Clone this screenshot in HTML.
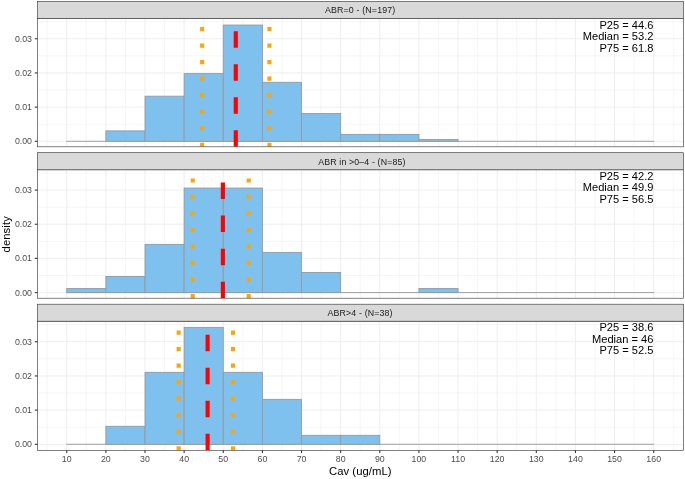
<!DOCTYPE html>
<html><head><meta charset="utf-8"><title>Cav histogram</title>
<style>html,body{margin:0;padding:0;background:#fff;}svg{display:block;}</style></head>
<body>
<svg width="685" height="479" viewBox="0 0 685 479" font-family="'Liberation Sans', sans-serif">
<rect x="0" y="0" width="685" height="479" fill="#ffffff"/>
<clipPath id="c0"><rect x="37.5" y="18.5" width="646.0" height="128.3"/></clipPath>
<g clip-path="url(#c0)">
<rect x="37.5" y="18.5" width="646.0" height="128.3" fill="#fff"/>
<line x1="37.5" x2="683.5" y1="124.21" y2="124.21" stroke="#EBEBEB" stroke-width="0.45"/>
<line x1="37.5" x2="683.5" y1="90.03" y2="90.03" stroke="#EBEBEB" stroke-width="0.45"/>
<line x1="37.5" x2="683.5" y1="55.85" y2="55.85" stroke="#EBEBEB" stroke-width="0.45"/>
<line x1="37.5" x2="683.5" y1="21.67" y2="21.67" stroke="#EBEBEB" stroke-width="0.45"/>
<line x1="47.19" x2="47.19" y1="18.5" y2="146.8" stroke="#EBEBEB" stroke-width="0.45"/>
<line x1="86.31" x2="86.31" y1="18.5" y2="146.8" stroke="#EBEBEB" stroke-width="0.45"/>
<line x1="125.44" x2="125.44" y1="18.5" y2="146.8" stroke="#EBEBEB" stroke-width="0.45"/>
<line x1="164.57" x2="164.57" y1="18.5" y2="146.8" stroke="#EBEBEB" stroke-width="0.45"/>
<line x1="203.70" x2="203.70" y1="18.5" y2="146.8" stroke="#EBEBEB" stroke-width="0.45"/>
<line x1="242.83" x2="242.83" y1="18.5" y2="146.8" stroke="#EBEBEB" stroke-width="0.45"/>
<line x1="281.97" x2="281.97" y1="18.5" y2="146.8" stroke="#EBEBEB" stroke-width="0.45"/>
<line x1="321.10" x2="321.10" y1="18.5" y2="146.8" stroke="#EBEBEB" stroke-width="0.45"/>
<line x1="360.22" x2="360.22" y1="18.5" y2="146.8" stroke="#EBEBEB" stroke-width="0.45"/>
<line x1="399.35" x2="399.35" y1="18.5" y2="146.8" stroke="#EBEBEB" stroke-width="0.45"/>
<line x1="438.48" x2="438.48" y1="18.5" y2="146.8" stroke="#EBEBEB" stroke-width="0.45"/>
<line x1="477.61" x2="477.61" y1="18.5" y2="146.8" stroke="#EBEBEB" stroke-width="0.45"/>
<line x1="516.75" x2="516.75" y1="18.5" y2="146.8" stroke="#EBEBEB" stroke-width="0.45"/>
<line x1="555.88" x2="555.88" y1="18.5" y2="146.8" stroke="#EBEBEB" stroke-width="0.45"/>
<line x1="595.00" x2="595.00" y1="18.5" y2="146.8" stroke="#EBEBEB" stroke-width="0.45"/>
<line x1="634.13" x2="634.13" y1="18.5" y2="146.8" stroke="#EBEBEB" stroke-width="0.45"/>
<line x1="673.26" x2="673.26" y1="18.5" y2="146.8" stroke="#EBEBEB" stroke-width="0.45"/>
<line x1="37.5" x2="683.5" y1="141.30" y2="141.30" stroke="#EBEBEB" stroke-width="0.85"/>
<line x1="37.5" x2="683.5" y1="107.12" y2="107.12" stroke="#EBEBEB" stroke-width="0.85"/>
<line x1="37.5" x2="683.5" y1="72.94" y2="72.94" stroke="#EBEBEB" stroke-width="0.85"/>
<line x1="37.5" x2="683.5" y1="38.76" y2="38.76" stroke="#EBEBEB" stroke-width="0.85"/>
<line x1="66.75" x2="66.75" y1="18.5" y2="146.8" stroke="#EBEBEB" stroke-width="0.85"/>
<line x1="105.88" x2="105.88" y1="18.5" y2="146.8" stroke="#EBEBEB" stroke-width="0.85"/>
<line x1="145.01" x2="145.01" y1="18.5" y2="146.8" stroke="#EBEBEB" stroke-width="0.85"/>
<line x1="184.14" x2="184.14" y1="18.5" y2="146.8" stroke="#EBEBEB" stroke-width="0.85"/>
<line x1="223.27" x2="223.27" y1="18.5" y2="146.8" stroke="#EBEBEB" stroke-width="0.85"/>
<line x1="262.40" x2="262.40" y1="18.5" y2="146.8" stroke="#EBEBEB" stroke-width="0.85"/>
<line x1="301.53" x2="301.53" y1="18.5" y2="146.8" stroke="#EBEBEB" stroke-width="0.85"/>
<line x1="340.66" x2="340.66" y1="18.5" y2="146.8" stroke="#EBEBEB" stroke-width="0.85"/>
<line x1="379.79" x2="379.79" y1="18.5" y2="146.8" stroke="#EBEBEB" stroke-width="0.85"/>
<line x1="418.92" x2="418.92" y1="18.5" y2="146.8" stroke="#EBEBEB" stroke-width="0.85"/>
<line x1="458.05" x2="458.05" y1="18.5" y2="146.8" stroke="#EBEBEB" stroke-width="0.85"/>
<line x1="497.18" x2="497.18" y1="18.5" y2="146.8" stroke="#EBEBEB" stroke-width="0.85"/>
<line x1="536.31" x2="536.31" y1="18.5" y2="146.8" stroke="#EBEBEB" stroke-width="0.85"/>
<line x1="575.44" x2="575.44" y1="18.5" y2="146.8" stroke="#EBEBEB" stroke-width="0.85"/>
<line x1="614.57" x2="614.57" y1="18.5" y2="146.8" stroke="#EBEBEB" stroke-width="0.85"/>
<line x1="653.70" x2="653.70" y1="18.5" y2="146.8" stroke="#EBEBEB" stroke-width="0.85"/>
<line x1="66.22" x2="654.23" y1="141.30" y2="141.30" stroke="#999999" stroke-width="0.9"/>
<rect x="66.75" y="141.30" width="39.13" height="0.00" fill="#7EC0EE" stroke="#999999" stroke-width="0.9" stroke-linejoin="miter"/>
<rect x="105.88" y="130.89" width="39.13" height="10.41" fill="#7EC0EE" stroke="#999999" stroke-width="0.9" stroke-linejoin="miter"/>
<rect x="145.01" y="96.19" width="39.13" height="45.11" fill="#7EC0EE" stroke="#999999" stroke-width="0.9" stroke-linejoin="miter"/>
<rect x="184.14" y="73.63" width="39.13" height="67.67" fill="#7EC0EE" stroke="#999999" stroke-width="0.9" stroke-linejoin="miter"/>
<rect x="223.27" y="25.05" width="39.13" height="116.25" fill="#7EC0EE" stroke="#999999" stroke-width="0.9" stroke-linejoin="miter"/>
<rect x="262.40" y="82.31" width="39.13" height="58.99" fill="#7EC0EE" stroke="#999999" stroke-width="0.9" stroke-linejoin="miter"/>
<rect x="301.53" y="113.54" width="39.13" height="27.76" fill="#7EC0EE" stroke="#999999" stroke-width="0.9" stroke-linejoin="miter"/>
<rect x="340.66" y="134.36" width="39.13" height="6.94" fill="#7EC0EE" stroke="#999999" stroke-width="0.9" stroke-linejoin="miter"/>
<rect x="379.79" y="134.36" width="39.13" height="6.94" fill="#7EC0EE" stroke="#999999" stroke-width="0.9" stroke-linejoin="miter"/>
<rect x="418.92" y="139.56" width="39.13" height="1.74" fill="#7EC0EE" stroke="#999999" stroke-width="0.9" stroke-linejoin="miter"/>
<rect x="458.05" y="141.30" width="39.13" height="0.00" fill="#7EC0EE" stroke="#999999" stroke-width="0.9" stroke-linejoin="miter"/>
<rect x="497.18" y="141.30" width="39.13" height="0.00" fill="#7EC0EE" stroke="#999999" stroke-width="0.9" stroke-linejoin="miter"/>
<rect x="536.31" y="141.30" width="39.13" height="0.00" fill="#7EC0EE" stroke="#999999" stroke-width="0.9" stroke-linejoin="miter"/>
<rect x="575.44" y="141.30" width="39.13" height="0.00" fill="#7EC0EE" stroke="#999999" stroke-width="0.9" stroke-linejoin="miter"/>
<rect x="614.57" y="141.30" width="39.13" height="0.00" fill="#7EC0EE" stroke="#999999" stroke-width="0.9" stroke-linejoin="miter"/>
<line x1="202.14" x2="202.14" y1="146.8" y2="18.5" stroke="#FFA500" stroke-width="4.13" stroke-dasharray="4.13 12.39"/>
<line x1="269.44" x2="269.44" y1="146.8" y2="18.5" stroke="#FFA500" stroke-width="4.13" stroke-dasharray="4.13 12.39"/>
<line x1="235.79" x2="235.79" y1="146.8" y2="18.5" stroke="#FF0000" stroke-width="4.13" stroke-dasharray="16.52 16.52"/>
<text x="653.4" y="28.50" font-size="11.1" text-anchor="end" fill="#000">P25 = 44.6</text>
<text x="653.4" y="40.12" font-size="11.1" text-anchor="end" fill="#000">Median = 53.2</text>
<text x="653.4" y="51.74" font-size="11.1" text-anchor="end" fill="#000">P75 = 61.8</text>
</g>
<rect x="37.5" y="18.5" width="646.0" height="128.3" fill="none" stroke="#333333" stroke-width="0.62"/>
<rect x="37.5" y="1.5" width="646.0" height="17.0" fill="#D9D9D9" stroke="#333333" stroke-width="0.62"/>
<text x="360.20" y="13.45" font-size="8.8" text-anchor="middle" fill="#1A1A1A" letter-spacing="0.17">ABR=0 - (N=197)</text>
<line x1="34.75" x2="37.5" y1="141.30" y2="141.30" stroke="#333333" stroke-width="1.07"/>
<text x="32.0" y="144.25" font-size="8.8" text-anchor="end" fill="#4D4D4D">0.00</text>
<line x1="34.75" x2="37.5" y1="107.12" y2="107.12" stroke="#333333" stroke-width="1.07"/>
<text x="32.0" y="110.07" font-size="8.8" text-anchor="end" fill="#4D4D4D">0.01</text>
<line x1="34.75" x2="37.5" y1="72.94" y2="72.94" stroke="#333333" stroke-width="1.07"/>
<text x="32.0" y="75.89" font-size="8.8" text-anchor="end" fill="#4D4D4D">0.02</text>
<line x1="34.75" x2="37.5" y1="38.76" y2="38.76" stroke="#333333" stroke-width="1.07"/>
<text x="32.0" y="41.71" font-size="8.8" text-anchor="end" fill="#4D4D4D">0.03</text>
<clipPath id="c1"><rect x="37.5" y="169.8" width="646.0" height="128.39999999999998"/></clipPath>
<g clip-path="url(#c1)">
<rect x="37.5" y="169.8" width="646.0" height="128.39999999999998" fill="#fff"/>
<line x1="37.5" x2="683.5" y1="275.51" y2="275.51" stroke="#EBEBEB" stroke-width="0.45"/>
<line x1="37.5" x2="683.5" y1="241.33" y2="241.33" stroke="#EBEBEB" stroke-width="0.45"/>
<line x1="37.5" x2="683.5" y1="207.15" y2="207.15" stroke="#EBEBEB" stroke-width="0.45"/>
<line x1="37.5" x2="683.5" y1="172.97" y2="172.97" stroke="#EBEBEB" stroke-width="0.45"/>
<line x1="47.19" x2="47.19" y1="169.8" y2="298.2" stroke="#EBEBEB" stroke-width="0.45"/>
<line x1="86.31" x2="86.31" y1="169.8" y2="298.2" stroke="#EBEBEB" stroke-width="0.45"/>
<line x1="125.44" x2="125.44" y1="169.8" y2="298.2" stroke="#EBEBEB" stroke-width="0.45"/>
<line x1="164.57" x2="164.57" y1="169.8" y2="298.2" stroke="#EBEBEB" stroke-width="0.45"/>
<line x1="203.70" x2="203.70" y1="169.8" y2="298.2" stroke="#EBEBEB" stroke-width="0.45"/>
<line x1="242.83" x2="242.83" y1="169.8" y2="298.2" stroke="#EBEBEB" stroke-width="0.45"/>
<line x1="281.97" x2="281.97" y1="169.8" y2="298.2" stroke="#EBEBEB" stroke-width="0.45"/>
<line x1="321.10" x2="321.10" y1="169.8" y2="298.2" stroke="#EBEBEB" stroke-width="0.45"/>
<line x1="360.22" x2="360.22" y1="169.8" y2="298.2" stroke="#EBEBEB" stroke-width="0.45"/>
<line x1="399.35" x2="399.35" y1="169.8" y2="298.2" stroke="#EBEBEB" stroke-width="0.45"/>
<line x1="438.48" x2="438.48" y1="169.8" y2="298.2" stroke="#EBEBEB" stroke-width="0.45"/>
<line x1="477.61" x2="477.61" y1="169.8" y2="298.2" stroke="#EBEBEB" stroke-width="0.45"/>
<line x1="516.75" x2="516.75" y1="169.8" y2="298.2" stroke="#EBEBEB" stroke-width="0.45"/>
<line x1="555.88" x2="555.88" y1="169.8" y2="298.2" stroke="#EBEBEB" stroke-width="0.45"/>
<line x1="595.00" x2="595.00" y1="169.8" y2="298.2" stroke="#EBEBEB" stroke-width="0.45"/>
<line x1="634.13" x2="634.13" y1="169.8" y2="298.2" stroke="#EBEBEB" stroke-width="0.45"/>
<line x1="673.26" x2="673.26" y1="169.8" y2="298.2" stroke="#EBEBEB" stroke-width="0.45"/>
<line x1="37.5" x2="683.5" y1="292.60" y2="292.60" stroke="#EBEBEB" stroke-width="0.85"/>
<line x1="37.5" x2="683.5" y1="258.42" y2="258.42" stroke="#EBEBEB" stroke-width="0.85"/>
<line x1="37.5" x2="683.5" y1="224.24" y2="224.24" stroke="#EBEBEB" stroke-width="0.85"/>
<line x1="37.5" x2="683.5" y1="190.06" y2="190.06" stroke="#EBEBEB" stroke-width="0.85"/>
<line x1="66.75" x2="66.75" y1="169.8" y2="298.2" stroke="#EBEBEB" stroke-width="0.85"/>
<line x1="105.88" x2="105.88" y1="169.8" y2="298.2" stroke="#EBEBEB" stroke-width="0.85"/>
<line x1="145.01" x2="145.01" y1="169.8" y2="298.2" stroke="#EBEBEB" stroke-width="0.85"/>
<line x1="184.14" x2="184.14" y1="169.8" y2="298.2" stroke="#EBEBEB" stroke-width="0.85"/>
<line x1="223.27" x2="223.27" y1="169.8" y2="298.2" stroke="#EBEBEB" stroke-width="0.85"/>
<line x1="262.40" x2="262.40" y1="169.8" y2="298.2" stroke="#EBEBEB" stroke-width="0.85"/>
<line x1="301.53" x2="301.53" y1="169.8" y2="298.2" stroke="#EBEBEB" stroke-width="0.85"/>
<line x1="340.66" x2="340.66" y1="169.8" y2="298.2" stroke="#EBEBEB" stroke-width="0.85"/>
<line x1="379.79" x2="379.79" y1="169.8" y2="298.2" stroke="#EBEBEB" stroke-width="0.85"/>
<line x1="418.92" x2="418.92" y1="169.8" y2="298.2" stroke="#EBEBEB" stroke-width="0.85"/>
<line x1="458.05" x2="458.05" y1="169.8" y2="298.2" stroke="#EBEBEB" stroke-width="0.85"/>
<line x1="497.18" x2="497.18" y1="169.8" y2="298.2" stroke="#EBEBEB" stroke-width="0.85"/>
<line x1="536.31" x2="536.31" y1="169.8" y2="298.2" stroke="#EBEBEB" stroke-width="0.85"/>
<line x1="575.44" x2="575.44" y1="169.8" y2="298.2" stroke="#EBEBEB" stroke-width="0.85"/>
<line x1="614.57" x2="614.57" y1="169.8" y2="298.2" stroke="#EBEBEB" stroke-width="0.85"/>
<line x1="653.70" x2="653.70" y1="169.8" y2="298.2" stroke="#EBEBEB" stroke-width="0.85"/>
<line x1="66.22" x2="654.23" y1="292.60" y2="292.60" stroke="#999999" stroke-width="0.9"/>
<rect x="66.75" y="288.58" width="39.13" height="4.02" fill="#7EC0EE" stroke="#999999" stroke-width="0.9" stroke-linejoin="miter"/>
<rect x="105.88" y="276.52" width="39.13" height="16.08" fill="#7EC0EE" stroke="#999999" stroke-width="0.9" stroke-linejoin="miter"/>
<rect x="145.01" y="244.35" width="39.13" height="48.25" fill="#7EC0EE" stroke="#999999" stroke-width="0.9" stroke-linejoin="miter"/>
<rect x="184.14" y="188.05" width="39.13" height="104.55" fill="#7EC0EE" stroke="#999999" stroke-width="0.9" stroke-linejoin="miter"/>
<rect x="223.27" y="188.05" width="39.13" height="104.55" fill="#7EC0EE" stroke="#999999" stroke-width="0.9" stroke-linejoin="miter"/>
<rect x="262.40" y="252.39" width="39.13" height="40.21" fill="#7EC0EE" stroke="#999999" stroke-width="0.9" stroke-linejoin="miter"/>
<rect x="301.53" y="272.49" width="39.13" height="20.11" fill="#7EC0EE" stroke="#999999" stroke-width="0.9" stroke-linejoin="miter"/>
<rect x="340.66" y="292.60" width="39.13" height="0.00" fill="#7EC0EE" stroke="#999999" stroke-width="0.9" stroke-linejoin="miter"/>
<rect x="379.79" y="292.60" width="39.13" height="0.00" fill="#7EC0EE" stroke="#999999" stroke-width="0.9" stroke-linejoin="miter"/>
<rect x="418.92" y="288.58" width="39.13" height="4.02" fill="#7EC0EE" stroke="#999999" stroke-width="0.9" stroke-linejoin="miter"/>
<rect x="458.05" y="292.60" width="39.13" height="0.00" fill="#7EC0EE" stroke="#999999" stroke-width="0.9" stroke-linejoin="miter"/>
<rect x="497.18" y="292.60" width="39.13" height="0.00" fill="#7EC0EE" stroke="#999999" stroke-width="0.9" stroke-linejoin="miter"/>
<rect x="536.31" y="292.60" width="39.13" height="0.00" fill="#7EC0EE" stroke="#999999" stroke-width="0.9" stroke-linejoin="miter"/>
<rect x="575.44" y="292.60" width="39.13" height="0.00" fill="#7EC0EE" stroke="#999999" stroke-width="0.9" stroke-linejoin="miter"/>
<rect x="614.57" y="292.60" width="39.13" height="0.00" fill="#7EC0EE" stroke="#999999" stroke-width="0.9" stroke-linejoin="miter"/>
<line x1="192.75" x2="192.75" y1="298.2" y2="169.8" stroke="#FFA500" stroke-width="4.13" stroke-dasharray="4.13 12.39"/>
<line x1="248.70" x2="248.70" y1="298.2" y2="169.8" stroke="#FFA500" stroke-width="4.13" stroke-dasharray="4.13 12.39"/>
<line x1="222.88" x2="222.88" y1="298.2" y2="169.8" stroke="#FF0000" stroke-width="4.13" stroke-dasharray="16.52 16.52"/>
<text x="653.4" y="179.80" font-size="11.1" text-anchor="end" fill="#000">P25 = 42.2</text>
<text x="653.4" y="191.42" font-size="11.1" text-anchor="end" fill="#000">Median = 49.9</text>
<text x="653.4" y="203.04" font-size="11.1" text-anchor="end" fill="#000">P75 = 56.5</text>
</g>
<rect x="37.5" y="169.8" width="646.0" height="128.39999999999998" fill="none" stroke="#333333" stroke-width="0.62"/>
<rect x="37.5" y="152.7" width="646.0" height="17.100000000000023" fill="#D9D9D9" stroke="#333333" stroke-width="0.62"/>
<text x="361.90" y="164.65" font-size="8.8" text-anchor="middle" fill="#1A1A1A" letter-spacing="0.14">ABR in >0–4 - (N=85)</text>
<line x1="34.75" x2="37.5" y1="292.60" y2="292.60" stroke="#333333" stroke-width="1.07"/>
<text x="32.0" y="295.55" font-size="8.8" text-anchor="end" fill="#4D4D4D">0.00</text>
<line x1="34.75" x2="37.5" y1="258.42" y2="258.42" stroke="#333333" stroke-width="1.07"/>
<text x="32.0" y="261.37" font-size="8.8" text-anchor="end" fill="#4D4D4D">0.01</text>
<line x1="34.75" x2="37.5" y1="224.24" y2="224.24" stroke="#333333" stroke-width="1.07"/>
<text x="32.0" y="227.19" font-size="8.8" text-anchor="end" fill="#4D4D4D">0.02</text>
<line x1="34.75" x2="37.5" y1="190.06" y2="190.06" stroke="#333333" stroke-width="1.07"/>
<text x="32.0" y="193.01" font-size="8.8" text-anchor="end" fill="#4D4D4D">0.03</text>
<clipPath id="c2"><rect x="37.5" y="321.2" width="646.0" height="129.10000000000002"/></clipPath>
<g clip-path="url(#c2)">
<rect x="37.5" y="321.2" width="646.0" height="129.10000000000002" fill="#fff"/>
<line x1="37.5" x2="683.5" y1="427.21" y2="427.21" stroke="#EBEBEB" stroke-width="0.45"/>
<line x1="37.5" x2="683.5" y1="393.03" y2="393.03" stroke="#EBEBEB" stroke-width="0.45"/>
<line x1="37.5" x2="683.5" y1="358.85" y2="358.85" stroke="#EBEBEB" stroke-width="0.45"/>
<line x1="37.5" x2="683.5" y1="324.67" y2="324.67" stroke="#EBEBEB" stroke-width="0.45"/>
<line x1="47.19" x2="47.19" y1="321.2" y2="450.3" stroke="#EBEBEB" stroke-width="0.45"/>
<line x1="86.31" x2="86.31" y1="321.2" y2="450.3" stroke="#EBEBEB" stroke-width="0.45"/>
<line x1="125.44" x2="125.44" y1="321.2" y2="450.3" stroke="#EBEBEB" stroke-width="0.45"/>
<line x1="164.57" x2="164.57" y1="321.2" y2="450.3" stroke="#EBEBEB" stroke-width="0.45"/>
<line x1="203.70" x2="203.70" y1="321.2" y2="450.3" stroke="#EBEBEB" stroke-width="0.45"/>
<line x1="242.83" x2="242.83" y1="321.2" y2="450.3" stroke="#EBEBEB" stroke-width="0.45"/>
<line x1="281.97" x2="281.97" y1="321.2" y2="450.3" stroke="#EBEBEB" stroke-width="0.45"/>
<line x1="321.10" x2="321.10" y1="321.2" y2="450.3" stroke="#EBEBEB" stroke-width="0.45"/>
<line x1="360.22" x2="360.22" y1="321.2" y2="450.3" stroke="#EBEBEB" stroke-width="0.45"/>
<line x1="399.35" x2="399.35" y1="321.2" y2="450.3" stroke="#EBEBEB" stroke-width="0.45"/>
<line x1="438.48" x2="438.48" y1="321.2" y2="450.3" stroke="#EBEBEB" stroke-width="0.45"/>
<line x1="477.61" x2="477.61" y1="321.2" y2="450.3" stroke="#EBEBEB" stroke-width="0.45"/>
<line x1="516.75" x2="516.75" y1="321.2" y2="450.3" stroke="#EBEBEB" stroke-width="0.45"/>
<line x1="555.88" x2="555.88" y1="321.2" y2="450.3" stroke="#EBEBEB" stroke-width="0.45"/>
<line x1="595.00" x2="595.00" y1="321.2" y2="450.3" stroke="#EBEBEB" stroke-width="0.45"/>
<line x1="634.13" x2="634.13" y1="321.2" y2="450.3" stroke="#EBEBEB" stroke-width="0.45"/>
<line x1="673.26" x2="673.26" y1="321.2" y2="450.3" stroke="#EBEBEB" stroke-width="0.45"/>
<line x1="37.5" x2="683.5" y1="444.30" y2="444.30" stroke="#EBEBEB" stroke-width="0.85"/>
<line x1="37.5" x2="683.5" y1="410.12" y2="410.12" stroke="#EBEBEB" stroke-width="0.85"/>
<line x1="37.5" x2="683.5" y1="375.94" y2="375.94" stroke="#EBEBEB" stroke-width="0.85"/>
<line x1="37.5" x2="683.5" y1="341.76" y2="341.76" stroke="#EBEBEB" stroke-width="0.85"/>
<line x1="66.75" x2="66.75" y1="321.2" y2="450.3" stroke="#EBEBEB" stroke-width="0.85"/>
<line x1="105.88" x2="105.88" y1="321.2" y2="450.3" stroke="#EBEBEB" stroke-width="0.85"/>
<line x1="145.01" x2="145.01" y1="321.2" y2="450.3" stroke="#EBEBEB" stroke-width="0.85"/>
<line x1="184.14" x2="184.14" y1="321.2" y2="450.3" stroke="#EBEBEB" stroke-width="0.85"/>
<line x1="223.27" x2="223.27" y1="321.2" y2="450.3" stroke="#EBEBEB" stroke-width="0.85"/>
<line x1="262.40" x2="262.40" y1="321.2" y2="450.3" stroke="#EBEBEB" stroke-width="0.85"/>
<line x1="301.53" x2="301.53" y1="321.2" y2="450.3" stroke="#EBEBEB" stroke-width="0.85"/>
<line x1="340.66" x2="340.66" y1="321.2" y2="450.3" stroke="#EBEBEB" stroke-width="0.85"/>
<line x1="379.79" x2="379.79" y1="321.2" y2="450.3" stroke="#EBEBEB" stroke-width="0.85"/>
<line x1="418.92" x2="418.92" y1="321.2" y2="450.3" stroke="#EBEBEB" stroke-width="0.85"/>
<line x1="458.05" x2="458.05" y1="321.2" y2="450.3" stroke="#EBEBEB" stroke-width="0.85"/>
<line x1="497.18" x2="497.18" y1="321.2" y2="450.3" stroke="#EBEBEB" stroke-width="0.85"/>
<line x1="536.31" x2="536.31" y1="321.2" y2="450.3" stroke="#EBEBEB" stroke-width="0.85"/>
<line x1="575.44" x2="575.44" y1="321.2" y2="450.3" stroke="#EBEBEB" stroke-width="0.85"/>
<line x1="614.57" x2="614.57" y1="321.2" y2="450.3" stroke="#EBEBEB" stroke-width="0.85"/>
<line x1="653.70" x2="653.70" y1="321.2" y2="450.3" stroke="#EBEBEB" stroke-width="0.85"/>
<line x1="66.22" x2="654.23" y1="444.30" y2="444.30" stroke="#999999" stroke-width="0.9"/>
<rect x="66.75" y="444.30" width="39.13" height="0.00" fill="#7EC0EE" stroke="#999999" stroke-width="0.9" stroke-linejoin="miter"/>
<rect x="105.88" y="426.31" width="39.13" height="17.99" fill="#7EC0EE" stroke="#999999" stroke-width="0.9" stroke-linejoin="miter"/>
<rect x="145.01" y="372.34" width="39.13" height="71.96" fill="#7EC0EE" stroke="#999999" stroke-width="0.9" stroke-linejoin="miter"/>
<rect x="184.14" y="327.37" width="39.13" height="116.93" fill="#7EC0EE" stroke="#999999" stroke-width="0.9" stroke-linejoin="miter"/>
<rect x="223.27" y="372.34" width="39.13" height="71.96" fill="#7EC0EE" stroke="#999999" stroke-width="0.9" stroke-linejoin="miter"/>
<rect x="262.40" y="399.33" width="39.13" height="44.97" fill="#7EC0EE" stroke="#999999" stroke-width="0.9" stroke-linejoin="miter"/>
<rect x="301.53" y="435.31" width="39.13" height="8.99" fill="#7EC0EE" stroke="#999999" stroke-width="0.9" stroke-linejoin="miter"/>
<rect x="340.66" y="435.31" width="39.13" height="8.99" fill="#7EC0EE" stroke="#999999" stroke-width="0.9" stroke-linejoin="miter"/>
<rect x="379.79" y="444.30" width="39.13" height="0.00" fill="#7EC0EE" stroke="#999999" stroke-width="0.9" stroke-linejoin="miter"/>
<rect x="418.92" y="444.30" width="39.13" height="0.00" fill="#7EC0EE" stroke="#999999" stroke-width="0.9" stroke-linejoin="miter"/>
<rect x="458.05" y="444.30" width="39.13" height="0.00" fill="#7EC0EE" stroke="#999999" stroke-width="0.9" stroke-linejoin="miter"/>
<rect x="497.18" y="444.30" width="39.13" height="0.00" fill="#7EC0EE" stroke="#999999" stroke-width="0.9" stroke-linejoin="miter"/>
<rect x="536.31" y="444.30" width="39.13" height="0.00" fill="#7EC0EE" stroke="#999999" stroke-width="0.9" stroke-linejoin="miter"/>
<rect x="575.44" y="444.30" width="39.13" height="0.00" fill="#7EC0EE" stroke="#999999" stroke-width="0.9" stroke-linejoin="miter"/>
<rect x="614.57" y="444.30" width="39.13" height="0.00" fill="#7EC0EE" stroke="#999999" stroke-width="0.9" stroke-linejoin="miter"/>
<line x1="178.66" x2="178.66" y1="450.3" y2="321.2" stroke="#FFA500" stroke-width="4.13" stroke-dasharray="4.13 12.39"/>
<line x1="233.05" x2="233.05" y1="450.3" y2="321.2" stroke="#FFA500" stroke-width="4.13" stroke-dasharray="4.13 12.39"/>
<line x1="207.62" x2="207.62" y1="450.3" y2="321.2" stroke="#FF0000" stroke-width="4.13" stroke-dasharray="16.52 16.52"/>
<text x="653.4" y="331.20" font-size="11.1" text-anchor="end" fill="#000">P25 = 38.6</text>
<text x="653.4" y="342.82" font-size="11.1" text-anchor="end" fill="#000">Median = 46</text>
<text x="653.4" y="354.44" font-size="11.1" text-anchor="end" fill="#000">P75 = 52.5</text>
</g>
<rect x="37.5" y="321.2" width="646.0" height="129.10000000000002" fill="none" stroke="#333333" stroke-width="0.62"/>
<rect x="37.5" y="304.2" width="646.0" height="17.0" fill="#D9D9D9" stroke="#333333" stroke-width="0.62"/>
<text x="360.10" y="316.15" font-size="8.8" text-anchor="middle" fill="#1A1A1A" letter-spacing="0.14">ABR>4 - (N=38)</text>
<line x1="34.75" x2="37.5" y1="444.30" y2="444.30" stroke="#333333" stroke-width="1.07"/>
<text x="32.0" y="447.25" font-size="8.8" text-anchor="end" fill="#4D4D4D">0.00</text>
<line x1="34.75" x2="37.5" y1="410.12" y2="410.12" stroke="#333333" stroke-width="1.07"/>
<text x="32.0" y="413.07" font-size="8.8" text-anchor="end" fill="#4D4D4D">0.01</text>
<line x1="34.75" x2="37.5" y1="375.94" y2="375.94" stroke="#333333" stroke-width="1.07"/>
<text x="32.0" y="378.89" font-size="8.8" text-anchor="end" fill="#4D4D4D">0.02</text>
<line x1="34.75" x2="37.5" y1="341.76" y2="341.76" stroke="#333333" stroke-width="1.07"/>
<text x="32.0" y="344.71" font-size="8.8" text-anchor="end" fill="#4D4D4D">0.03</text>
<line x1="66.75" x2="66.75" y1="450.3" y2="453.05" stroke="#333333" stroke-width="1.07"/>
<text x="66.75" y="462" font-size="8.8" text-anchor="middle" fill="#4D4D4D">10</text>
<line x1="105.88" x2="105.88" y1="450.3" y2="453.05" stroke="#333333" stroke-width="1.07"/>
<text x="105.88" y="462" font-size="8.8" text-anchor="middle" fill="#4D4D4D">20</text>
<line x1="145.01" x2="145.01" y1="450.3" y2="453.05" stroke="#333333" stroke-width="1.07"/>
<text x="145.01" y="462" font-size="8.8" text-anchor="middle" fill="#4D4D4D">30</text>
<line x1="184.14" x2="184.14" y1="450.3" y2="453.05" stroke="#333333" stroke-width="1.07"/>
<text x="184.14" y="462" font-size="8.8" text-anchor="middle" fill="#4D4D4D">40</text>
<line x1="223.27" x2="223.27" y1="450.3" y2="453.05" stroke="#333333" stroke-width="1.07"/>
<text x="223.27" y="462" font-size="8.8" text-anchor="middle" fill="#4D4D4D">50</text>
<line x1="262.40" x2="262.40" y1="450.3" y2="453.05" stroke="#333333" stroke-width="1.07"/>
<text x="262.40" y="462" font-size="8.8" text-anchor="middle" fill="#4D4D4D">60</text>
<line x1="301.53" x2="301.53" y1="450.3" y2="453.05" stroke="#333333" stroke-width="1.07"/>
<text x="301.53" y="462" font-size="8.8" text-anchor="middle" fill="#4D4D4D">70</text>
<line x1="340.66" x2="340.66" y1="450.3" y2="453.05" stroke="#333333" stroke-width="1.07"/>
<text x="340.66" y="462" font-size="8.8" text-anchor="middle" fill="#4D4D4D">80</text>
<line x1="379.79" x2="379.79" y1="450.3" y2="453.05" stroke="#333333" stroke-width="1.07"/>
<text x="379.79" y="462" font-size="8.8" text-anchor="middle" fill="#4D4D4D">90</text>
<line x1="418.92" x2="418.92" y1="450.3" y2="453.05" stroke="#333333" stroke-width="1.07"/>
<text x="418.92" y="462" font-size="8.8" text-anchor="middle" fill="#4D4D4D">100</text>
<line x1="458.05" x2="458.05" y1="450.3" y2="453.05" stroke="#333333" stroke-width="1.07"/>
<text x="458.05" y="462" font-size="8.8" text-anchor="middle" fill="#4D4D4D">110</text>
<line x1="497.18" x2="497.18" y1="450.3" y2="453.05" stroke="#333333" stroke-width="1.07"/>
<text x="497.18" y="462" font-size="8.8" text-anchor="middle" fill="#4D4D4D">120</text>
<line x1="536.31" x2="536.31" y1="450.3" y2="453.05" stroke="#333333" stroke-width="1.07"/>
<text x="536.31" y="462" font-size="8.8" text-anchor="middle" fill="#4D4D4D">130</text>
<line x1="575.44" x2="575.44" y1="450.3" y2="453.05" stroke="#333333" stroke-width="1.07"/>
<text x="575.44" y="462" font-size="8.8" text-anchor="middle" fill="#4D4D4D">140</text>
<line x1="614.57" x2="614.57" y1="450.3" y2="453.05" stroke="#333333" stroke-width="1.07"/>
<text x="614.57" y="462" font-size="8.8" text-anchor="middle" fill="#4D4D4D">150</text>
<line x1="653.70" x2="653.70" y1="450.3" y2="453.05" stroke="#333333" stroke-width="1.07"/>
<text x="653.70" y="462" font-size="8.8" text-anchor="middle" fill="#4D4D4D">160</text>
<text x="360.3" y="475.3" font-size="11.3" letter-spacing="0.05" text-anchor="middle" fill="#000">Cav (ug/mL)</text>
<text transform="translate(9.9,234.3) rotate(-90)" font-size="11.3" letter-spacing="0.08" text-anchor="middle" fill="#000">density</text>
</svg>
</body></html>
